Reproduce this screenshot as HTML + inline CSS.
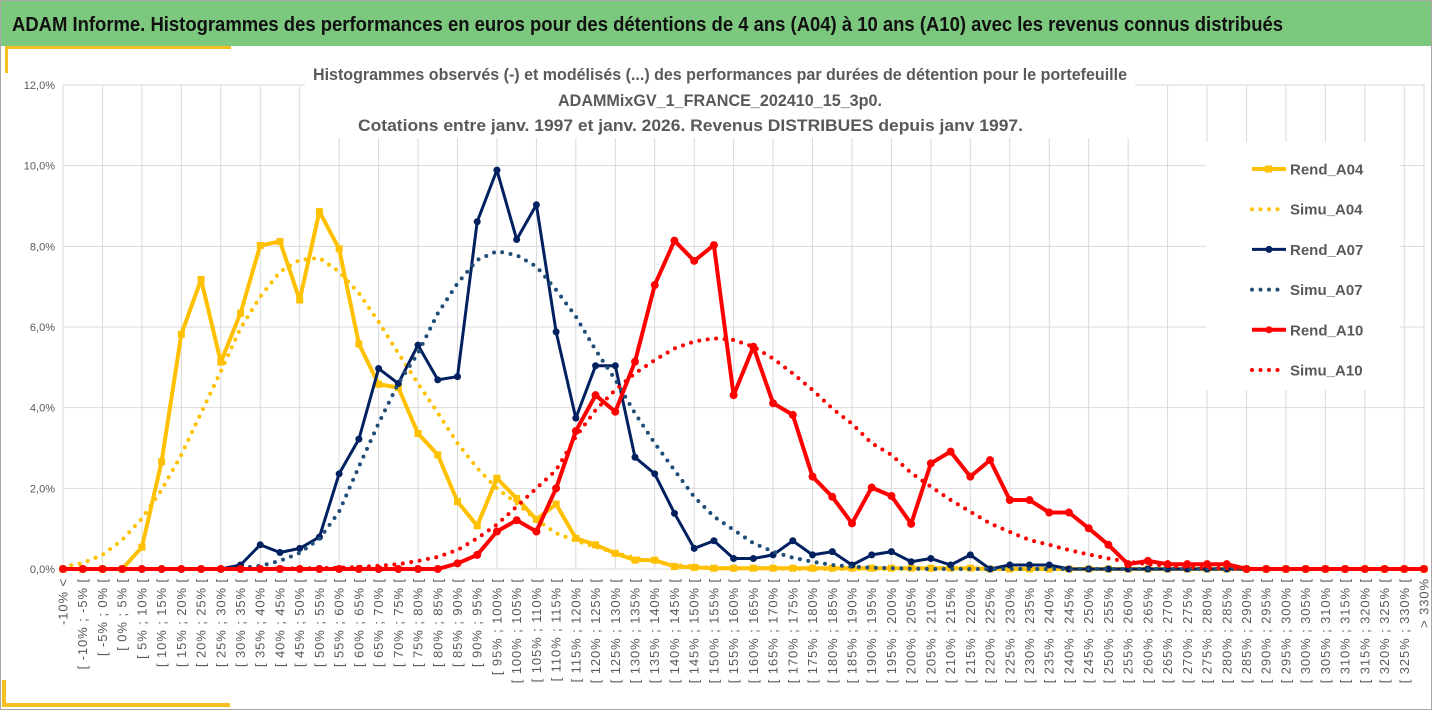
<!DOCTYPE html>
<html><head><meta charset="utf-8">
<style>
html,body{margin:0;padding:0;background:#fff;}
body{width:1432px;height:710px;overflow:hidden;font-family:"Liberation Sans",sans-serif;}
</style></head>
<body>
<svg id="chart" width="1432" height="710" viewBox="0 0 1432 710" xmlns="http://www.w3.org/2000/svg" font-family="Liberation Sans, sans-serif">
  <rect x="0.5" y="0.5" width="1431" height="709" fill="#fff" stroke="#a6a6a6"/>
  <rect x="1" y="1" width="1430" height="45" fill="#7dc87f"/>
  <text x="12" y="31" font-size="20" font-weight="bold" fill="#111" textLength="1271" lengthAdjust="spacingAndGlyphs">ADAM Informe. Histogrammes des performances en euros pour des détentions de 4 ans (A04) à 10 ans (A10) avec les revenus connus distribués</text>
  <rect x="5" y="46" width="226" height="3" fill="#f5c020"/>
  <rect x="5" y="46" width="3" height="27" fill="#f5c020"/>
  <rect x="2" y="680" width="4" height="27" fill="#f5c020"/>
  <rect x="2" y="703" width="228" height="4" fill="#f5c020"/>
  <g id="grid"></g>
  <g id="yaxis"></g>
  <g id="xaxis"></g>
  <g font-size="16.5" font-weight="bold" fill="#595959" lengthAdjust="spacingAndGlyphs">
    <rect x="305" y="58" width="830" height="80" fill="#fff"/>
    <text x="313" y="80" textLength="814" lengthAdjust="spacingAndGlyphs">Histogrammes observés (-) et modélisés (...) des performances par durées de détention pour le portefeuille</text>
    <text x="558" y="106" textLength="324" lengthAdjust="spacingAndGlyphs">ADAMMixGV_1_FRANCE_202410_15_3p0.</text>
    <text x="358" y="131" textLength="665" lengthAdjust="spacingAndGlyphs">Cotations entre janv. 1997 et janv. 2026. Revenus DISTRIBUES depuis janv 1997.</text>
  </g>
  <g id="series"></g>
  <g id="legend"></g>
</svg>
<script>
const categories = (function(){const c=["-10% <"];for(let v=-10;v<330;v+=5){c.push("[ "+v+"% ; "+(v+5)+"% [");}c.push("> 330%");return c;})();
const yTicks = [0,2,4,6,8,10,12];
const yTickLabels = ["0,0%","2,0%","4,0%","6,0%","8,0%","10,0%","12,0%"];
const rendA04 = [0,0,0,0,0.54,2.66,5.82,7.18,5.13,6.34,8.02,8.12,6.67,8.86,7.94,5.58,4.58,4.5,3.36,2.83,1.67,1.07,2.25,1.75,1.23,1.61,0.76,0.6,0.39,0.22,0.22,0.06,0.04,0.02,0.02,0.02,0.02,0.02,0.02,0.02,0.02,0.02,0.02,0.02,0.02,0.02,0.02,0,0,0,0,0,0,0,0,0,0,0,0,0,0,0,0,0,0,0,0,0,0,0];
const simuA04 = [0.05,0.15,0.35,0.72,1.25,1.96,2.83,3.87,4.9,5.97,6.75,7.37,7.66,7.71,7.37,6.84,6.13,5.35,4.6,3.87,3.12,2.5,2.0,1.63,1.22,0.89,0.7,0.55,0.4,0.28,0.18,0.1,0.06,0.03,0.02,0.01,0.01,0,0,0,0,0,0,0,0,0,0,0,0,0,0,0,0,0,0,0,0,0,0,0,0,0,0,0,0,0,0,0,0,0];
const rendA07 = [0,0,0,0,0,0,0,0,0,0.1,0.6,0.41,0.51,0.79,2.36,3.22,4.97,4.6,5.55,4.69,4.77,8.61,9.89,8.17,9.03,5.88,3.74,5.04,5.04,2.77,2.36,1.38,0.51,0.7,0.26,0.26,0.35,0.7,0.35,0.43,0.1,0.35,0.43,0.18,0.26,0.1,0.35,0,0.1,0.1,0.1,0,0,0,0,0,0,0,0,0,0,0,0,0,0,0,0,0,0,0];
const simuA07 = [0,0,0,0,0,0,0,0,0,0.02,0.08,0.2,0.4,0.75,1.42,2.54,3.61,4.6,5.35,6.34,7.08,7.66,7.88,7.78,7.5,6.92,6.26,5.43,4.69,3.86,3.12,2.45,1.79,1.3,0.97,0.64,0.43,0.28,0.18,0.1,0.06,0.03,0.02,0.01,0,0,0,0,0,0,0,0,0,0,0,0,0,0,0,0,0,0,0,0,0,0,0,0,0,0];
const rendA10 = [0,0,0,0,0,0,0,0,0,0,0,0,0,0,0,0,0,0,0,0,0.14,0.35,0.93,1.21,0.93,2.0,3.42,4.31,3.9,5.14,7.04,8.14,7.64,8.03,4.31,5.51,4.11,3.82,2.29,1.79,1.13,2.02,1.81,1.12,2.62,2.91,2.29,2.7,1.71,1.71,1.4,1.4,1.01,0.6,0.12,0.2,0.12,0.12,0.12,0.12,0,0,0,0,0,0,0,0,0,0];
const simuA10 = [0,0,0,0,0,0,0,0,0,0,0.01,0.01,0.02,0.02,0.03,0.05,0.08,0.12,0.2,0.3,0.47,0.76,1.1,1.55,2.0,2.45,3.28,3.94,4.44,4.85,5.18,5.47,5.64,5.72,5.68,5.51,5.22,4.85,4.44,3.98,3.6,3.12,2.83,2.38,2.04,1.71,1.42,1.13,0.92,0.72,0.6,0.47,0.36,0.26,0.18,0.12,0.08,0.05,0.03,0.02,0.01,0,0,0,0,0,0,0,0,0];
const seriesNames = ["Rend_A04","Simu_A04","Rend_A07","Simu_A07","Rend_A10","Simu_A10"];

const NS="http://www.w3.org/2000/svg";
const X0=63, X1=1424, Y0=569, YTOP=85, YMAX=12;
function xPos(i){return X0+i*(X1-X0)/(categories.length-1);}
function yPos(v){return Y0-v*(Y0-YTOP)/YMAX;}
function mk(tag,attrs,parent){const e=document.createElementNS(NS,tag);for(const k in attrs)e.setAttribute(k,attrs[k]);parent.appendChild(e);return e;}

const grid=document.getElementById('grid');
yTicks.forEach(function(t){
  const l=mk('line',{x1:X0,x2:X1,y1:yPos(t),y2:yPos(t),stroke:'#d9d9d9','stroke-width':1},grid);
  
  
});
categories.forEach(function(c,i){
  if(i%2===0||i===categories.length-1){
    const l=mk('line',{x1:xPos(i),x2:xPos(i),y1:YTOP,y2:Y0,stroke:'#d9d9d9','stroke-width':1},grid);
    
    
  }
});
const ya=document.getElementById('yaxis');
yTicks.forEach(function(t,i){
  const tx=mk('text',{x:55,y:yPos(t)+4,'font-size':11,fill:'#595959','text-anchor':'end'},ya);
  tx.textContent=yTickLabels[i];
  
  
});
const xa=document.getElementById('xaxis');
categories.forEach(function(c,i){
  const x=xPos(i)+4.5, y=578;
  const tx=mk('text',{x:x,y:y,'font-size':13,'letter-spacing':0.9,fill:'#595959','text-anchor':'end',transform:'rotate(-90 '+x+' '+y+')'},xa);
  tx.textContent=c;
  
  
});

const sl=document.getElementById('series');
function pts(arr){return arr.map(function(v,i){return xPos(i).toFixed(1)+','+yPos(v).toFixed(1);}).join(' ');}
function drawSolid(arr,color,w,marker,r,name){
  const g=mk('g',{},sl);
  
  
  mk('polyline',{points:pts(arr),fill:'none',stroke:color,'stroke-width':w,'stroke-linejoin':'round'},g);
  arr.forEach(function(v,i){
    let m;
    if(marker==='square'){m=mk('rect',{x:xPos(i)-r,y:yPos(v)-r,width:2*r,height:2*r,fill:color},g);}
    else{m=mk('circle',{cx:xPos(i),cy:yPos(v),r:r,fill:color},g);}
    
    
  });
}
function drawDotted(arr,color,name){
  const p=mk('polyline',{points:pts(arr),fill:'none',stroke:color,'stroke-width':4,'stroke-linecap':'round','stroke-dasharray':'0 8.5'},sl);
  
  
}
drawSolid(rendA04,'#ffc000',4,'square',3.5,'rend-a04-line');
drawDotted(simuA04,'#ffc000','simu-a04-line');
drawSolid(rendA07,'#002060',3,'circle',3.5,'rend-a07-line');
drawDotted(simuA07,'#1f4e79','simu-a07-line');
drawSolid(rendA10,'#ff0000',4,'circle',4,'rend-a10-line');
drawDotted(simuA10,'#ff0000','simu-a10-line');

const lg=document.getElementById('legend');
mk('rect',{x:1206,y:142,width:194,height:248,fill:'#fff'},lg);
const lgColors=['#ffc000','#ffc000','#002060','#1f4e79','#ff0000','#ff0000'];
seriesNames.forEach(function(n,i){
  const y=169+i*40.2;
  const g=mk('g',{},lg);
  
  
  if(i%2===0){
    mk('line',{x1:1252,x2:1286,y1:y,y2:y,stroke:lgColors[i],'stroke-width':i===2?3:4},g);
    if(i===0)mk('rect',{x:1265,y:y-3.5,width:7,height:7,fill:lgColors[i]},g);
    else mk('circle',{cx:1269,cy:y,r:3.5,fill:lgColors[i]},g);
  } else {
    mk('line',{x1:1252,x2:1286,y1:y,y2:y,stroke:lgColors[i],'stroke-width':4,'stroke-linecap':'round','stroke-dasharray':'0 8.5'},g);
  }
  const t=mk('text',{x:1290,y:y+5.5,'font-size':15,'font-weight':'bold',fill:'#595959'},g);
  t.textContent=n;
});
</script>
</body></html>
